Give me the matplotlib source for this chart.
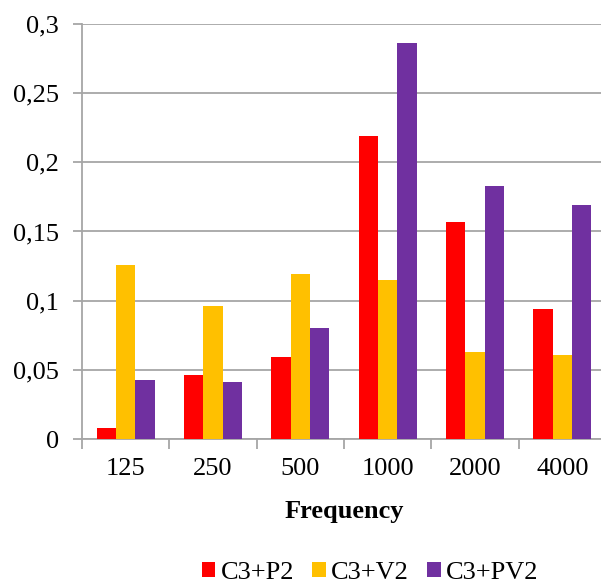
import numpy as np
import matplotlib.pyplot as plt
from matplotlib.patches import Patch
from matplotlib.ticker import FixedLocator

plt.rcParams['font.family'] = ['Liberation Serif', 'DejaVu Serif']

frequencies = ["125", "250", "500", "1000", "2000", "4000"]
series_names = ["C3+P2", "C3+V2", "C3+PV2"]
c3_p2 = [0.008, 0.046, 0.059, 0.219, 0.157, 0.094]
c3_v2 = [0.126, 0.096, 0.119, 0.115, 0.063, 0.061]
c3_pv2 = [0.043, 0.041, 0.080, 0.286, 0.183, 0.169]
colors = ["#FF0000", "#FFC000", "#7030A0"]

grid_color = "#A6A6A6"

fig = plt.figure(figsize=(6.01, 5.84), dpi=100)
# plot area runs a little past the right edge, like the cropped original
ax = fig.add_axes([82 / 601, 145 / 584, 524 / 601, 415 / 584])

x = np.arange(len(frequencies))
width = 1 / 4.5
for i, (vals, col) in enumerate(zip([c3_p2, c3_v2, c3_pv2], colors)):
    ax.bar(x + (i - 1) * width, vals, width, color=col, zorder=3)

ax.set_xlim(-0.5, len(frequencies) - 0.5)
ax.set_ylim(0, 0.3)

yticks = np.arange(0, 0.31, 0.05)
ax.set_yticks(yticks)
ax.set_yticklabels(["0" if v == 0 else f"{v:.2f}".rstrip("0").replace(".", ",") for v in yticks])
ax.yaxis.grid(True, color=grid_color, linewidth=1.3, zorder=0)

ax.set_xticks(x)
ax.set_xticklabels(frequencies)
ax.xaxis.set_minor_locator(FixedLocator(np.arange(-0.5, len(frequencies), 1.0)))
ax.tick_params(axis="x", which="major", length=0, pad=14, labelsize=19)
ax.tick_params(axis="x", which="minor", length=7, width=1.3, color=grid_color)
ax.tick_params(axis="y", length=6.5, width=1.3, color=grid_color, pad=10, labelsize=19)

for side in ["top", "right"]:
    ax.spines[side].set_visible(False)
for side in ["left", "bottom"]:
    ax.spines[side].set_color(grid_color)
    ax.spines[side].set_linewidth(1.3)

ax.set_xlabel("Frequency", fontsize=19, fontweight="bold", labelpad=14)

handles = [Patch(facecolor=c) for c in colors]
fig.legend(handles, series_names, loc="center", bbox_to_anchor=(370 / 601, 11 / 584),
           ncol=3, frameon=False, fontsize=19, handlelength=0.52, handleheight=0.52,
           handletextpad=0.2, columnspacing=0.68, borderpad=0, borderaxespad=0)

fig.savefig("out.png", dpi=100)
